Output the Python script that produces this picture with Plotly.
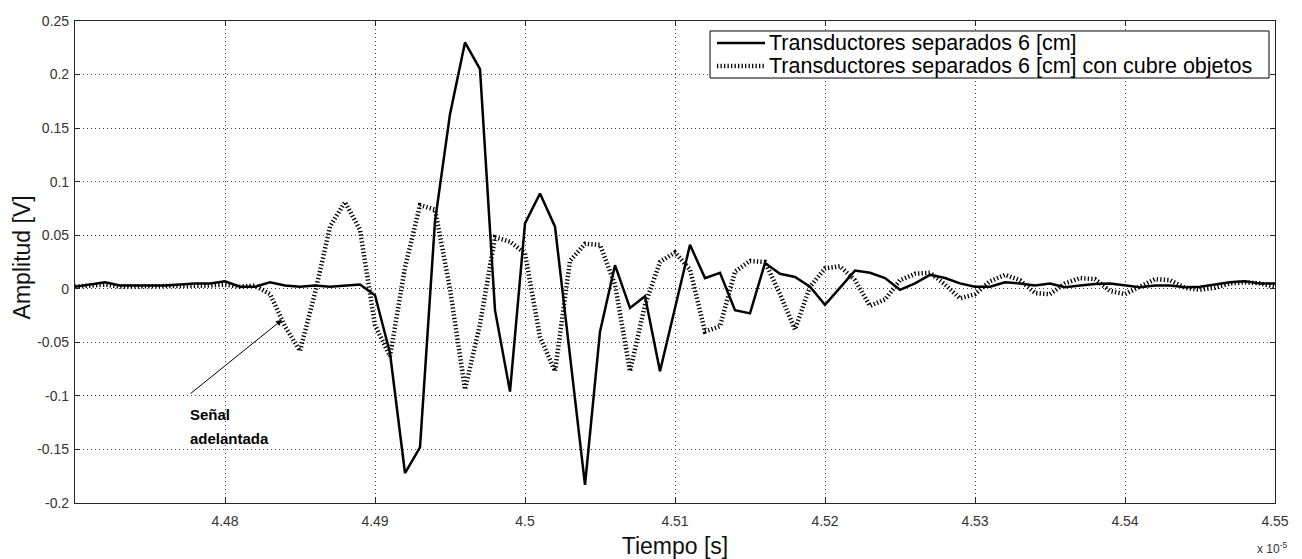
import plotly.graph_objects as go

# Time axis in units of 1e-5 s (one sample every 10 ns)
tiempo_e5 = [
    4.470, 4.471, 4.472, 4.473, 4.474, 4.475, 4.476, 4.477, 4.478, 4.479,
    4.480, 4.481, 4.482, 4.483, 4.484, 4.485, 4.486, 4.487, 4.488, 4.489,
    4.490, 4.491, 4.492, 4.493, 4.494, 4.495, 4.496, 4.497, 4.498, 4.499,
    4.500, 4.501, 4.502, 4.503, 4.504, 4.505, 4.506, 4.507, 4.508, 4.509,
    4.510, 4.511, 4.512, 4.513, 4.514, 4.515, 4.516, 4.517, 4.518, 4.519,
    4.520, 4.521, 4.522, 4.523, 4.524, 4.525, 4.526, 4.527, 4.528, 4.529,
    4.530, 4.531, 4.532, 4.533, 4.534, 4.535, 4.536, 4.537, 4.538, 4.539,
    4.540, 4.541, 4.542, 4.543, 4.544, 4.545, 4.546, 4.547, 4.548, 4.549,
    4.550,
]

# Transducers 6 cm apart [V]
amp_separados = [
    0.002, 0.004, 0.006, 0.003, 0.003, 0.003, 0.003, 0.004, 0.005, 0.005,
    0.007, 0.002, 0.002, 0.006, 0.003, 0.002, 0.003, 0.002, 0.003, 0.004,
    -0.006, -0.060, -0.172, -0.148, 0.063, 0.163, 0.230, 0.205, -0.020, -0.096,
    0.061, 0.089, 0.058, -0.060, -0.183, -0.040, 0.022, -0.018, -0.007, -0.077,
    -0.018, 0.041, 0.010, 0.015, -0.020, -0.023, 0.024, 0.014, 0.011, 0.002,
    -0.015, 0.001, 0.017, 0.015, 0.010, -0.001, 0.005, 0.013, 0.010, 0.005,
    0.002, 0.002, 0.006, 0.005, 0.003, 0.005, 0.0015, 0.003, 0.0045, 0.005,
    0.003, 0.0015, 0.003, 0.003, 0.0015, 0.002, 0.004, 0.006, 0.007, 0.005,
    0.005,
]

# Same setup with a cover glass in the path [V]
amp_cubre_objetos = [
    0.002, 0.003, 0.004, 0.002, 0.002, 0.002, 0.002, 0.003, 0.003, 0.003,
    0.004, 0.002, 0.003, -0.005, -0.035, -0.058, -0.004, 0.058, 0.081, 0.055,
    -0.034, -0.063, 0.020, 0.078, 0.074, 0.000, -0.094, -0.033, 0.048, 0.044,
    0.033, -0.045, -0.077, 0.026, 0.042, 0.041, 0.004, -0.077, -0.015, 0.025,
    0.034, 0.018, -0.040, -0.035, 0.016, 0.026, 0.025, -0.005, -0.038, 0.002,
    0.019, 0.021, 0.008, -0.016, -0.010, 0.008, 0.014, 0.015, 0.004, -0.009,
    -0.005, 0.007, 0.013, 0.008, -0.004, -0.005, 0.005, 0.010, 0.009, -0.002,
    -0.005, 0.002, 0.009, 0.008, 0.001, -0.001, 0.001, 0.005, 0.006, 0.005,
    0.002,
]

x_ticks = [4.48, 4.49, 4.50, 4.51, 4.52, 4.53, 4.54, 4.55]
x_tick_text = ["4.48", "4.49", "4.5", "4.51", "4.52", "4.53", "4.54", "4.55"]
y_ticks = [-0.2, -0.15, -0.1, -0.05, 0, 0.05, 0.1, 0.15, 0.2, 0.25]
y_tick_text = ["-0.2", "-0.15", "-0.1", "-0.05", "0", "0.05", "0.1", "0.15", "0.2", "0.25"]

nombre_1 = "Transductores separados 6 [cm]"
nombre_2 = "Transductores separados 6 [cm] con cubre objetos"

# Arrow pointing at the early onset of the covered signal
flecha_desde = (4.4776, -0.099)
flecha_hasta = (4.4838, -0.029)

FONT = "Liberation Sans, Arial, sans-serif"

SOLID = dict(color="black", width=2.5)
DOTTED = dict(color="black", width=4.5, dash="1.3px,2.2px")

fig = go.Figure()
fig.add_trace(go.Scatter(
    x=tiempo_e5, y=amp_separados, mode="lines", name=nombre_1,
    line=SOLID, showlegend=False,
))
fig.add_trace(go.Scatter(
    x=tiempo_e5, y=amp_cubre_objetos, mode="lines", name=nombre_2,
    line=DOTTED, showlegend=False,
))

axis_common = dict(
    showline=True, linecolor="#262626", linewidth=1.2, mirror="ticks",
    ticks="inside", ticklen=5, tickcolor="#262626", tickwidth=1,
    showgrid=True, gridcolor="#444444", gridwidth=1, griddash="1px,3px",
    zeroline=False, automargin=False,
    tickfont=dict(family=FONT, size=14, color="#333333"),
)

fig.update_xaxes(
    range=[4.47, 4.55], tickvals=x_ticks, ticktext=x_tick_text,
    ticklabelstandoff=5,
    title=dict(text="Tiempo [s]", font=dict(family=FONT, size=23, color="#111111"), standoff=15),
    **axis_common,
)
fig.update_yaxes(
    range=[-0.2, 0.25], tickvals=y_ticks, ticktext=y_tick_text,
    ticklabelstandoff=2,
    **axis_common,
)

# y-axis title
fig.add_annotation(
    x=-0.044, y=0.51, xref="paper", yref="paper", text="Amplitud [V]",
    textangle=-90, showarrow=False, xanchor="center", yanchor="middle",
    font=dict(family=FONT, size=23, color="#111111"),
)

# Legend box in the upper right corner of the axes
fig.add_shape(type="rect", xref="paper", yref="paper",
              x0=0.5292, x1=0.995, y0=0.8817, y1=0.9793,
              line=dict(color="black", width=1), fillcolor="white", layer="above")
for y_pos, estilo, nombre in [(0.9544, SOLID, nombre_1), (0.9066, DOTTED, nombre_2)]:
    fig.add_shape(type="line", xref="paper", yref="paper",
                  x0=0.535, x1=0.575, y0=y_pos, y1=y_pos,
                  line=estilo, layer="above")
    fig.add_annotation(
        x=0.5775, y=y_pos, xref="paper", yref="paper", text=nombre,
        showarrow=False, xanchor="left", yanchor="middle", borderpad=0,
        font=dict(family=FONT, size=21.5, color="black"),
    )

fig.add_annotation(
    x=flecha_hasta[0], y=flecha_hasta[1], ax=flecha_desde[0], ay=flecha_desde[1],
    xref="x", yref="y", axref="x", ayref="y", text="",
    showarrow=True, arrowhead=2, arrowsize=1.2, arrowwidth=1, arrowcolor="black",
)
fig.add_annotation(
    x=4.4775, y=-0.117, xref="x", yref="y", text="<b>Señal</b>",
    showarrow=False, xanchor="left", yanchor="middle",
    font=dict(family=FONT, size=15, color="black"),
)
fig.add_annotation(
    x=4.4775, y=-0.140, xref="x", yref="y", text="<b>adelantada</b>",
    showarrow=False, xanchor="left", yanchor="middle",
    font=dict(family=FONT, size=15, color="black"),
)
fig.add_annotation(
    x=1.0108, y=-0.0935, xref="paper", yref="paper", text="x 10<sup>-5</sup>",
    showarrow=False, xanchor="right", yanchor="middle", borderpad=0,
    font=dict(family=FONT, size=12, color="#333333"),
)

fig.update_layout(
    width=1302, height=559,
    margin=dict(l=75, r=27, t=21, b=56, autoexpand=False),
    paper_bgcolor="white", plot_bgcolor="white",
    showlegend=False,
)

fig.write_html("out.html")
